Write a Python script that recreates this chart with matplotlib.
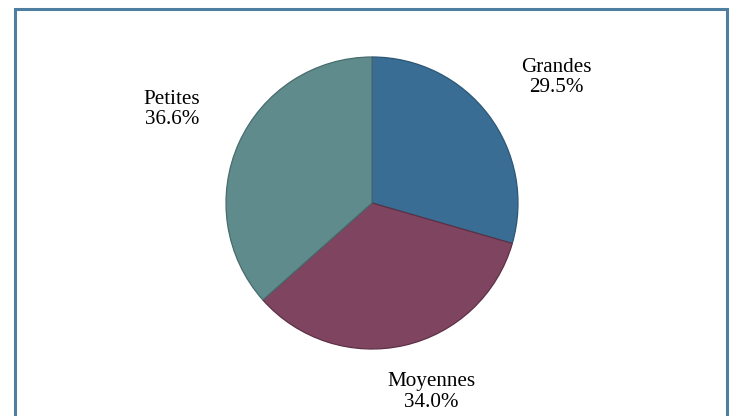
import matplotlib
matplotlib.use("Agg")
import matplotlib.pyplot as plt
from matplotlib.patches import Rectangle

categories = ["Grandes", "Moyennes", "Petites"]
values = [29.5, 34.0, 36.6]
colors = ["#3a6d94", "#7f4560", "#5f8b8c"]
edge_colors = ["#2c5675", "#5e3045", "#476c6d"]

W, H = 730, 416
fig = plt.figure(figsize=(W / 100, H / 100), dpi=100)
fig.patch.set_facecolor("white")

# border
fig.patches.append(Rectangle((14.5 / W, -0.02), 712 / W, (H - 8.5) / H + 0.02,
                             transform=fig.transFigure, fill=False,
                             edgecolor="#4f7fa0", linewidth=2.2, clip_on=False))

cx, cy, r = 372, 203, 146
ax = fig.add_axes([(cx - r) / W, (H - cy - r) / H, 2 * r / W, 2 * r / H])
wedges, _ = ax.pie(values, colors=colors, startangle=90, counterclock=False,
                   wedgeprops=dict(linewidth=0.9))
for w, ec in zip(wedges, edge_colors):
    w.set_edgecolor(ec)
ax.set_xlim(-1, 1)
ax.set_ylim(-1, 1)
ax.set_aspect("equal")
ax.axis("off")

label_pos = [(1.26, 0.86), (0.405, -1.295), (-1.37, 0.64)]
for (x, y), cat, v in zip(label_pos, categories, values):
    ax.text(x, y, f"{cat}\n{v:.1f}%", ha="center", va="center",
            fontsize=15.2, family="Liberation Serif", linespacing=1.1,
            clip_on=False)

fig.savefig("out.png", dpi=100)
